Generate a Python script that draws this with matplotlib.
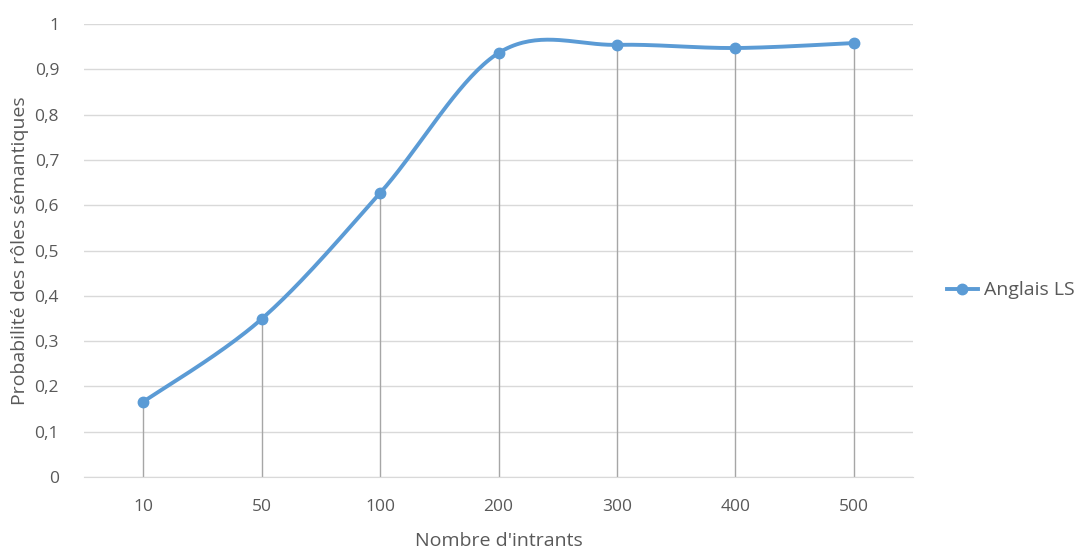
import numpy as np
import matplotlib.pyplot as plt
from matplotlib.lines import Line2D

plt.rcParams['font.family'] = ['Open Sans', 'DejaVu Sans']

categories = ['10', '50', '100', '200', '300', '400', '500']
anglais_ls = [0.166, 0.349, 0.627, 0.936, 0.954, 0.947, 0.958]
yticks = [0, 0.1, 0.2, 0.3, 0.4, 0.5, 0.6, 0.7, 0.8, 0.9, 1.0]

blue = '#5B9BD5'
txt = '#595959'


def excel_smooth(y, n=40):
    # courbe lissée façon Excel (Catmull-Rom -> Bezier)
    y = np.asarray(y, dtype=float)
    x = np.arange(len(y), dtype=float)
    pts = np.column_stack([x, y])
    xs, ys = [], []
    for i in range(len(pts) - 1):
        p0 = pts[max(i - 1, 0)]
        p1 = pts[i]
        p2 = pts[i + 1]
        p3 = pts[min(i + 2, len(pts) - 1)]
        c1 = p1 + (p2 - p0) / 6
        c2 = p2 - (p3 - p1) / 6
        t = np.linspace(0, 1, n)[:, None]
        b = (1 - t) ** 3 * p1 + 3 * (1 - t) ** 2 * t * c1 + 3 * (1 - t) * t ** 2 * c2 + t ** 3 * p2
        xs.append(b[:, 0])
        ys.append(b[:, 1])
    return np.concatenate(xs), np.concatenate(ys)


fig = plt.figure(figsize=(10.78, 5.53), dpi=100)
ax = fig.add_axes([0.078, 0.1374, 0.769, 0.8192])

x = np.arange(len(categories))
# lignes de projection
ax.vlines(x, 0, anglais_ls, color='#A6A6A6', linewidth=1.0, zorder=2)

sx, sy = excel_smooth(anglais_ls)
ax.plot(sx, sy, color=blue, linewidth=2.8, solid_capstyle='round', zorder=3)
ax.plot(x, anglais_ls, 'o', color=blue, markersize=7.5, zorder=4)

ax.set_xlim(-0.5, len(categories) - 0.5)
ax.set_ylim(0, 1)
ax.set_yticks(yticks)
ax.set_yticklabels([f'{v:g}'.replace('.', ',') for v in yticks])
ax.set_xticks(x)
ax.set_xticklabels(categories)
ax.grid(axis='y', color='#D9D9D9', linewidth=1.0, zorder=1)
ax.set_axisbelow(True)
for s in ['top', 'right', 'left']:
    ax.spines[s].set_visible(False)
ax.spines['bottom'].set_color('#D9D9D9')
ax.tick_params(length=0, colors=txt, labelsize=12.5)
ax.tick_params(axis='x', pad=16)
ax.tick_params(axis='y', pad=18)

ax.set_xlabel("Nombre d'intrants", color=txt, fontsize=14, labelpad=12)
ax.set_ylabel('Probabilité des rôles sémantiques', color=txt, fontsize=14, labelpad=4)

handle = Line2D([], [], color=blue, linewidth=2.8, marker='o', markersize=7.5)
fig.legend([handle], ['Anglais LS'], loc='center left', bbox_to_anchor=(0.862, 0.475),
           frameon=False, fontsize=14, labelcolor=txt, handlelength=1.6, handletextpad=0.3)

fig.savefig('out.png', dpi=100)
